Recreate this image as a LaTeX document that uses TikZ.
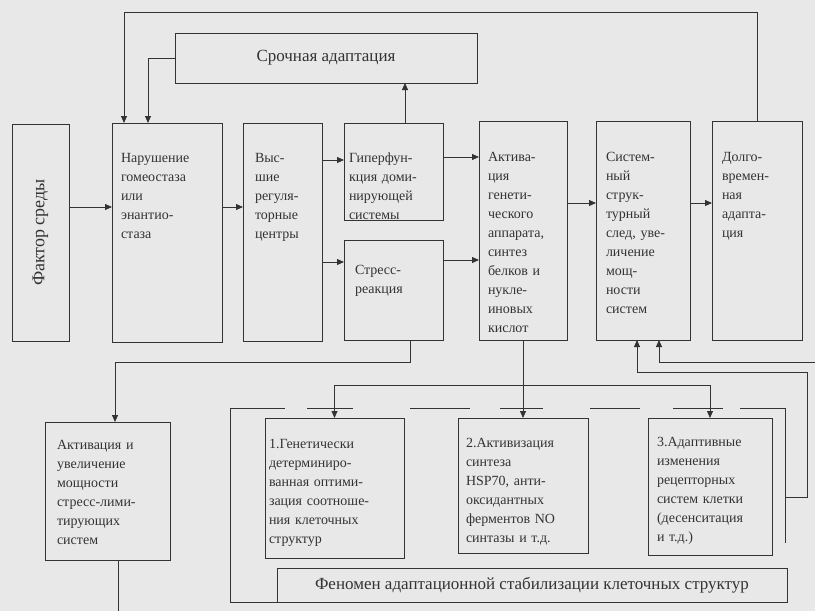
\documentclass[tikz,border=0pt]{standalone}
\usepackage{fontspec}
\usepackage{graphicx}
\setmainfont{Liberation Serif}
\usetikzlibrary{arrows.meta}

\newcommand{\blokfont}{\fontsize{14}{19}\selectfont}
\newcommand{\bolshojfont}{\fontsize{17}{20}\selectfont}

\begin{document}
\begin{tikzpicture}[x=1pt, y=-1pt, line width=0.8pt, color=black!80,
    blok/.style={draw, anchor=north west, align=left, inner ysep=0pt, outer sep=0pt, font=\blokfont},
    metka/.style={draw, anchor=north west, inner sep=0pt, outer sep=0pt, font=\bolshojfont},
    strelka/.style={-{Triangle[length=7pt, width=6pt]}}]
    \useasboundingbox (0,0) rectangle (815,611);
    \fill[black!9] (0,0) rectangle (815,611);

    % verhnij rjad
    \node[metka, minimum width=57pt, minimum height=217pt] (faktor) at (12,124) {\fontsize{18}{20}\selectfont\rotatebox{90}{Фактор среды}};
    \node[blok, inner xsep=9pt, text width=92pt, text height=39pt, text depth=180pt] (nar) at (112,123)
        {Нарушение\\гомеостаза\\или\\энантио-\\стаза};
    \node[blok, inner xsep=12pt, text width=55pt, text height=39pt, text depth=179pt] (vys) at (243,123)
        {Выс-\\шие\\регуля-\\торные\\центры};
    \node[blok, inner xsep=5pt, text width=89pt, text height=39pt, text depth=58pt] (giper) at (344,123)
        {Гиперфун-\\кция доми-\\нирующей\\системы};
    \node[blok, inner xsep=11pt, text width=77pt, text height=34pt, text depth=66pt] (stress) at (344,240)
        {Стресс-\\реакция};
    \node[metka, minimum width=302pt, minimum height=50pt] (sroch) at (175,33) {Срочная адаптация};
    \node[blok, inner xsep=9pt, text width=70pt, text height=40pt, text depth=179pt] (aktgen) at (479,121)
        {Актива-\\ция\\генети-\\ческого\\аппарата,\\синтез\\белков и\\нукле-\\иновых\\кислот};
    \node[blok, inner xsep=10pt, text width=74pt, text height=40pt, text depth=179pt] (sist) at (596,121)
        {Систем-\\ный\\струк-\\турный\\след, уве-\\личение\\мощ-\\ности\\систем};
    \node[blok, inner xsep=10pt, text width=70pt, text height=40pt, text depth=179pt] (dolg) at (712,121)
        {Долго-\\времен-\\ная\\адапта-\\ция};

    % nizhnij rjad
    \node[blok, inner xsep=12pt, text width=101pt, text height=27pt, text depth=111pt] (aktstr) at (45,422)
        {Активация и\\увеличение\\мощности\\стресс-лими-\\тирующих\\систем};
    \node[blok, inner xsep=4pt, text width=131pt, text height=30pt, text depth=110pt] (gen1) at (265,418)
        {1.Генетически\\детерминиро-\\ванная оптими-\\зация соотноше-\\ния клеточных\\структур};
    \node[blok, inner xsep=8pt, text width=114pt, text height=29pt, text depth=106pt] (akt2) at (458,418)
        {2.Активизация\\синтеза\\HSP70, анти-\\оксидантных\\ферментов NO\\синтазы и т.д.};
    \node[blok, inner xsep=9pt, text width=106pt, text height=28pt, text depth=109pt] (adap3) at (648,418)
        {3.Адаптивные\\изменения\\рецепторных\\систем клетки\\(десенситация\\и т.д.)};
    \node[metka, minimum width=510pt, minimum height=34pt] (fenomen) at (277,568)
        {Феномен адаптационной стабилизации клеточных структур};

    % urovni strelok
    \coordinate (h1) at (0,207);
    \coordinate (h2) at (0,160);
    \coordinate (h3) at (0,262);
    \coordinate (h4) at (0,157);
    \coordinate (h5) at (0,260);
    \coordinate (h6) at (0,203);

    \draw[strelka] (faktor.east |- h1) -- (nar.west |- h1);
    \draw[strelka] (nar.east |- h1) -- (vys.west |- h1);
    \draw[strelka] (vys.east |- h2) -- (giper.west |- h2);
    \draw[strelka] (vys.east |- h3) -- (stress.west |- h3);
    \draw[strelka] (giper.east |- h4) -- (aktgen.west |- h4);
    \draw[strelka] (stress.east |- h5) -- (aktgen.west |- h5);
    \draw[strelka] (aktgen.east |- h6) -- (sist.west |- h6);
    \draw[strelka] (sist.east |- h6) -- (dolg.west |- h6);

    % obratnye svjazi sverhu
    \coordinate (v1) at (405,0);
    \coordinate (v2) at (148,0);
    \coordinate (verh) at (124,12);
    \draw[strelka] (giper.north -| v1) -- (sroch.south -| v1);
    \draw[strelka] (dolg.north) |- (verh) -- (verh |- nar.north);
    \draw[strelka] (sroch.west) -| (v2 |- nar.north);

    % vniz
    \coordinate (v3) at (410,362);
    \coordinate (lev) at (115,362);
    \coordinate (razv) at (523,385);
    \coordinate (niz) at (118,611);
    \draw[strelka] (stress.south -| v3) |- (lev) -- (lev |- aktstr.north);
    \draw (niz |- aktstr.south) -- (niz);
    \draw[strelka] (aktgen.south) -- (akt2.north);
    \draw[strelka] (razv) -| (gen1.north);
    \draw[strelka] (razv) -| (adap3.north);

    % skobka
    \draw (285,408) -- (230,408) -- (230,602) -- (fenomen.south west);
    \draw (740,408) -- (785,408) -- (785,543);
    \foreach \a/\b in {307/353, 410/470, 500/543, 590/640, 673/723}
        \draw (\a,408) -- (\b,408);

    % k sistemnomu sledu
    \coordinate (sk1) at (785,497);
    \coordinate (obr) at (807,372);
    \coordinate (kraj) at (815,362);
    \draw[strelka] (sk1) -| (obr) -| ([xshift=-6pt]sist.south);
    \draw[strelka] (kraj) -| ([xshift=16pt]sist.south);
\end{tikzpicture}
\end{document}
